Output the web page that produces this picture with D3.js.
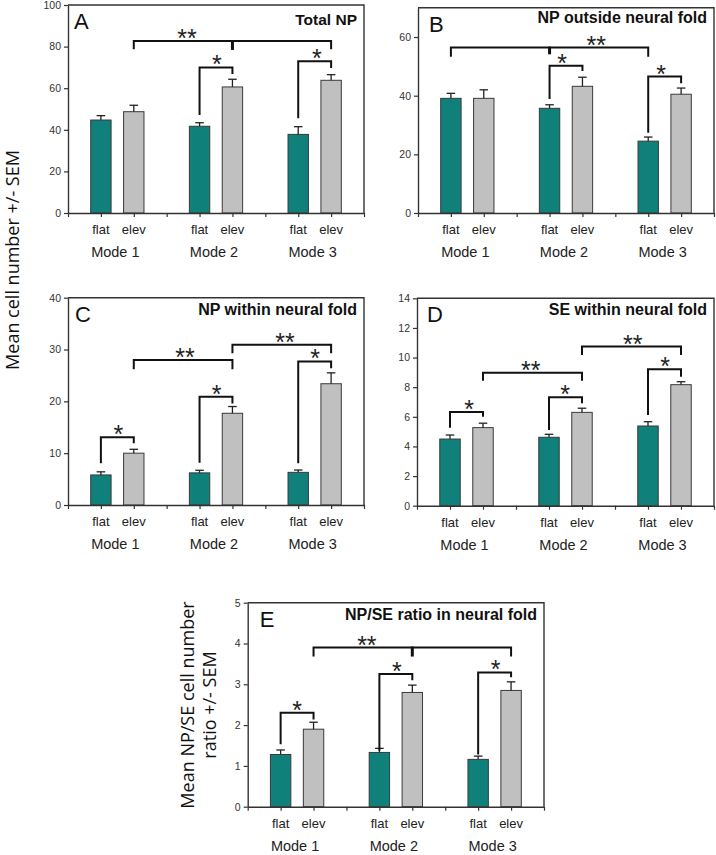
<!DOCTYPE html>
<meta charset="utf-8">
<script src="https://d3js.org/d3.v7.min.js"></script>
<style>
    body { margin: 0; background: #fff; }
    text { font-family: "Liberation Sans", Arial, sans-serif; }
</style>
<div id="chart"></div>

<script>

    // ---- data ----
    const modes = ["Mode 1", "Mode 2", "Mode 3"];
    const conditions = ["flat", "elev"];
    const barPos = [1, 2, 4, 5, 7, 8];          // flat/elev of each mode on a 0..9 axis

    const totalNP = [44.7, 48.7, 41.7, 60.6, 37.8, 63.8];
    const totalNPErr = [2.1, 3.1, 1.7, 3.7, 3.7, 2.7];
    const npOutside = [39.1, 39.1, 35.7, 43.2, 24.5, 40.5];
    const npOutsideErr = [1.7, 2.9, 1.2, 3.1, 1.4, 2.1];
    const npWithin = [5.8, 10.0, 6.2, 17.7, 6.3, 23.4];
    const npWithinErr = [0.6, 0.75, 0.5, 1.3, 0.45, 2.1];
    const seWithin = [4.5, 5.27, 4.62, 6.3, 5.38, 8.17];
    const seWithinErr = [0.27, 0.3, 0.2, 0.28, 0.29, 0.2];
    const ratio = [1.28, 1.9, 1.33, 2.8, 1.16, 2.85];
    const ratioErr = [0.11, 0.17, 0.1, 0.18, 0.08, 0.21];

    const ticksA = [0, 20, 40, 60, 80, 100];
    const ticksB = [0, 20, 40, 60];
    const ticksC = [0, 10, 20, 30, 40];
    const ticksD = [0, 2, 4, 6, 8, 10, 12, 14];
    const ticksE = [0, 1, 2, 3, 4, 5];

    // significance brackets: [from bar, to bar, level, left foot, right foot, label, label pos, mid bar, mid foot]
    const bracketsA = [
        [1, 5, 82.7, 78.7, 78.7, "**", 3.62, 3, 78.4],
        [2, 3, 70.0, 47.1, 66.8, "*", 4.53],
        [4, 5, 73.0, 45.5, 69.7, "*", 7.57]
    ];
    const bracketsB = [
        [0, 4, 56.4, 53.3, 53.3, "**", 5.42, 2, 54.1],
        [2, 3, 50.2, 38.9, 48.4, "*", 4.38],
        [4, 5, 46.5, 27.4, 44.2, "*", 7.39]
    ];
    const bracketsC = [
        [0, 1, 13.07, 8.05, 11.9, "*", 1.53],
        [1, 3, 28.0, 26.2, 26.2, "**", 3.56],
        [2, 3, 20.9, 8.17, 19.6, "*", 4.52],
        [3, 5, 30.9, 29.3, 29.3, "**", 6.6],
        [4, 5, 27.7, 8.05, 26.4, "*", 7.51]
    ];
    const bracketsD = [
        [0, 1, 6.33, 5.27, 6.0, "*", 1.58],
        [1, 3, 8.98, 8.44, 8.44, "**", 3.45],
        [2, 3, 7.32, 5.11, 6.91, "*", 4.49],
        [3, 5, 10.74, 10.18, 10.18, "**", 6.54],
        [4, 5, 9.21, 6.12, 8.71, "*", 7.52]
    ];
    const bracketsE = [
        [0, 1, 2.3, 1.53, 2.14, "*", 1.5],
        [1, 5, 3.9, 3.68, 3.68, "**", 3.62, 3, 3.68],
        [2, 3, 3.25, 1.37, 3.1, "*", 4.53],
        [4, 5, 3.29, 1.28, 3.17, "*", 7.53]
    ];

    // ---- layout ----
    const panels = [
        {letter: "A", title: "Total NP", vals: totalNP, err: totalNPErr, max: 100, ticks: ticksA, br: bracketsA,
         left: 68, right: 364, top: 5, bottom: 213, titleDy: 20, titleSize: 15.5, letterDx: 6},
        {letter: "B", title: "NP outside neural fold", vals: npOutside, err: npOutsideErr, max: 70, ticks: ticksB, br: bracketsB,
         left: 418, right: 714, top: 7.7, bottom: 213, titleDy: 15, titleSize: 16, letterDx: 11},
        {letter: "C", title: "NP within neural fold", vals: npWithin, err: npWithinErr, max: 40, ticks: ticksC, br: bracketsC,
         left: 68, right: 364, top: 297.7, bottom: 505, titleDy: 17.5, titleSize: 16, letterDx: 7},
        {letter: "D", title: "SE within neural fold", vals: seWithin, err: seWithinErr, max: 14, ticks: ticksD, br: bracketsD,
         left: 417, right: 714, top: 298.3, bottom: 505.7, titleDy: 17, titleSize: 16, letterDx: 10},
        {letter: "E", title: "NP/SE ratio in neural fold", vals: ratio, err: ratioErr, max: 5, ticks: ticksE, br: bracketsE,
         left: 247.7, right: 544, top: 602.7, bottom: 806.7, titleDy: 17.5, titleSize: 16, letterDx: 12}
    ];

    const teal = "#10807b", grey = "#c0c0c0", ink = "#333";

    const svg = d3.select("#chart")
        .append("svg")
        .attr("width", 716)
        .attr("height", 855);

    function drawPanel(p) {
        const g = svg.append("g");
        const x = d3.scaleLinear().domain([0, 9]).range([p.left, p.right]);
        const y = d3.scaleLinear().domain([0, p.max]).range([p.bottom, p.top]);

        // box
        g.append("path")
            .attr("d", `M${p.left},${p.top}H${p.right}V${p.bottom}`)
            .attr("fill", "none").attr("stroke", ink).attr("stroke-width", 1.4);

        // bars
        g.selectAll("rect.bar")
            .data(p.vals)
            .join("rect")
            .attr("class", "bar")
            .attr("x", (d, i) => x(barPos[i] - 0.31))
            .attr("width", x(0.62) - x(0))
            .attr("y", d => y(d))
            .attr("height", d => y(0) - y(d))
            .attr("fill", (d, i) => i % 2 ? grey : teal)
            .attr("stroke", "#3a3a3a")
            .attr("stroke-width", 1);

        // error bars (upper only)
        const eb = g.selectAll("g.err")
            .data(p.vals)
            .join("g")
            .attr("class", "err")
            .attr("stroke", "#222")
            .attr("stroke-width", 1.3);
        eb.append("line")
            .attr("x1", (d, i) => x(barPos[i])).attr("x2", (d, i) => x(barPos[i]))
            .attr("y1", d => y(d)).attr("y2", (d, i) => y(d + p.err[i]));
        eb.append("line")
            .attr("x1", (d, i) => x(barPos[i] - 0.13)).attr("x2", (d, i) => x(barPos[i] + 0.13))
            .attr("y1", (d, i) => y(d + p.err[i])).attr("y2", (d, i) => y(d + p.err[i]));

        // axes
        const ya = g.append("g")
            .attr("transform", `translate(${p.left},0)`)
            .call(d3.axisLeft(y).tickValues(p.ticks).tickFormat(d3.format("d"))
                .tickSize(4).tickSizeOuter(0).tickPadding(3));
        const xa = g.append("g")
            .attr("transform", `translate(0,${p.bottom})`)
            .call(d3.axisBottom(x).tickValues(d3.range(10)).tickFormat("").tickSize(4).tickSizeOuter(0));
        [ya, xa].forEach(a => {
            a.select(".domain").attr("stroke", ink).attr("stroke-width", 1.4);
            a.selectAll(".tick line").attr("stroke", ink).attr("stroke-width", 1.2);
        });
        ya.selectAll(".tick text")
            .attr("font-family", "Liberation Sans, Arial, sans-serif")
            .attr("font-size", 10.5).attr("fill", "#333");

        // category labels
        g.selectAll("text.cond")
            .data(barPos)
            .join("text")
            .attr("class", "cond")
            .attr("x", d => x(d))
            .attr("y", p.bottom + 21)
            .attr("text-anchor", "middle")
            .attr("font-size", 13)
            .attr("fill", "#222")
            .text((d, i) => conditions[i % 2]);
        g.selectAll("text.mode")
            .data(modes)
            .join("text")
            .attr("class", "mode")
            .attr("x", (d, i) => x(i * 3 + 1.5) - 2)
            .attr("y", p.bottom + 44)
            .attr("text-anchor", "middle")
            .attr("font-size", 14.5)
            .attr("fill", "#222")
            .text(d => d);

        // panel letter and title
        g.append("text")
            .attr("x", p.left + p.letterDx)
            .attr("y", p.top + 24)
            .attr("font-size", 22)
            .attr("fill", "#111")
            .text(p.letter);
        g.append("text")
            .attr("x", p.right - 7)
            .attr("y", p.top + p.titleDy)
            .attr("text-anchor", "end")
            .attr("font-size", p.titleSize)
            .attr("font-weight", "bold")
            .attr("fill", "#111")
            .text(p.title);

        // brackets
        p.br.forEach(b => {
            const x1 = x(barPos[b[0]]), x2 = x(barPos[b[1]]);
            g.append("path")
                .attr("d", `M${x1},${y(b[3])}V${y(b[2])}H${x2}V${y(b[4])}`)
                .attr("fill", "none")
                .attr("stroke", "#111")
                .attr("stroke-width", 2);
            if (b[7] !== undefined) {
                g.append("line")
                    .attr("x1", x(barPos[b[7]])).attr("x2", x(barPos[b[7]]))
                    .attr("y1", y(b[2]) - 1).attr("y2", y(b[8]))
                    .attr("stroke", "#111").attr("stroke-width", 3);
            }
            g.append("text")
                .attr("x", x(b[6]))
                .attr("y", y(b[2]) + 6)
                .attr("text-anchor", "middle")
                .attr("font-size", 25)
                .attr("fill", "#222")
                .text(b[5]);
        });
    }

    panels.forEach(drawPanel);

    // y axis titles
    svg.append("text")
        .attr("transform", "translate(19,260) rotate(-90)")
        .attr("text-anchor", "middle")
        .style("font-family", "'Open Sans', sans-serif")
        .attr("font-size", 18)
        .attr("fill", "#111")
        .text("Mean cell number +/- SEM");

    const eTitle = svg.append("text")
        .attr("transform", "translate(194,705) rotate(-90)")
        .attr("text-anchor", "middle")
        .style("font-family", "'Open Sans', sans-serif")
        .attr("font-size", 18)
        .attr("fill", "#111");
    eTitle.append("tspan").attr("x", 0).attr("dy", 0).text("Mean NP/SE cell number");
    eTitle.append("tspan").attr("x", 0).attr("dy", 22).text("ratio +/- SEM");

</script>
